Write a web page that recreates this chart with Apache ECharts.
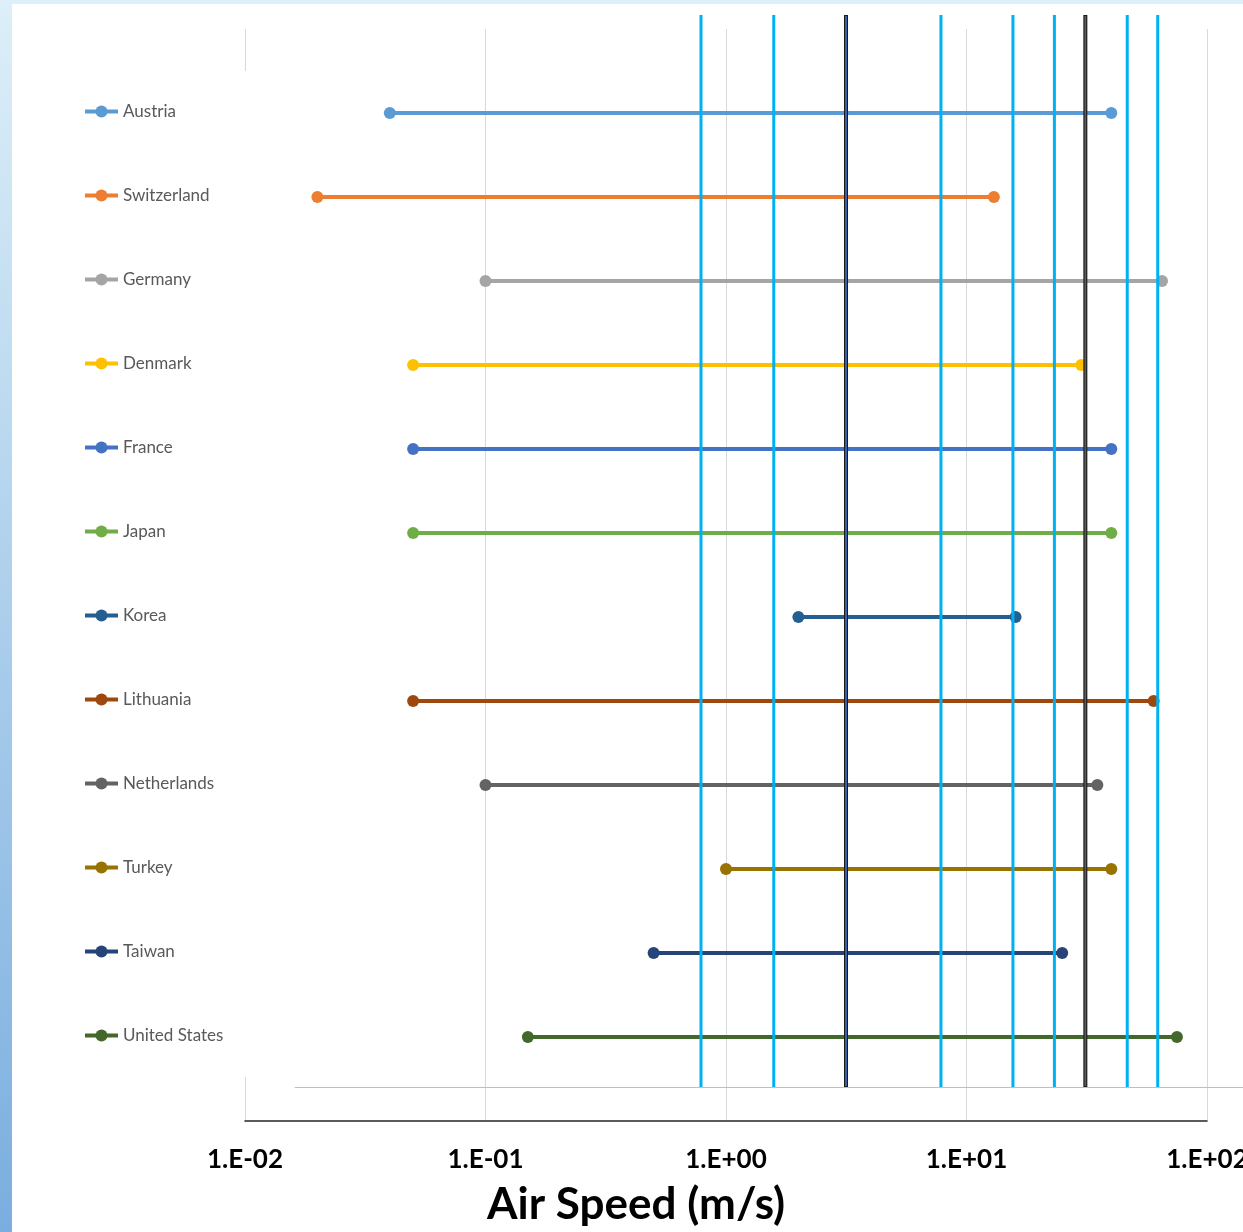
<!DOCTYPE html>
<html>
<head>
<meta charset="utf-8">
<style>
  html, body { margin: 0; padding: 0; background: #ffffff; overflow: hidden; }
  #chart { width: 1243px; height: 1232px; }
</style>
<script src="https://cdn.jsdelivr.net/npm/echarts@6/dist/echarts.min.js"></script>
</head>
<body>
<div id="chart"></div>
<script>
// Air speed ranges per country (m/s), drawn on a log scale
const countries = ['Austria', 'Switzerland', 'Germany', 'Denmark', 'France', 'Japan',
  'Korea', 'Lithuania', 'Netherlands', 'Turkey', 'Taiwan', 'United States'];
const lowSpeed  = [0.04, 0.02, 0.1, 0.05, 0.05, 0.05, 2, 0.05, 0.1, 1, 0.5, 0.15];
const highSpeed = [40, 13, 65, 30, 40, 40, 16, 60, 35, 40, 25, 75];
const seriesColors = ['#5B9BD5', '#ED7D31', '#A5A5A5', '#FFC000', '#4472C4', '#70AD47',
  '#255E91', '#9E480E', '#636363', '#997300', '#264478', '#43682B'];

// Reference speeds shown as vertical lines
const cyanLines = [0.787, 1.58, 7.83, 15.6, 23.2, 46.6, 62.4];
const darkLines = [3.155, 31.2];
const darkLineFill = ['#3F66B8', '#595959'];

// Tick label format: 1.E-02, 1.E+00, ...
function sciLabel(v) {
  const e = Math.round(Math.log10(v));
  const sign = e < 0 ? '-' : '+';
  return '1.E' + sign + String(Math.abs(e)).padStart(2, '0');
}

const font = 'Lato, "Open Sans", sans-serif';

const countrySeries = countries.map((name, i) => ({
  type: 'line',
  name: name,
  xAxisIndex: 0,
  yAxisIndex: 0,
  data: [[lowSpeed[i], i + 1], [highSpeed[i], i + 1]],
  symbol: 'circle',
  symbolSize: 12,
  lineStyle: { width: 4, color: seriesColors[i] },
  itemStyle: { color: seriesColors[i] },
  emphasis: { disabled: true },
  z: 2
}));

function vLine(color, width) {
  return function (params, api) {
    const x = api.value(0);
    const p0 = api.coord([x, 0]);
    const p1 = api.coord([x, 1]);
    return {
      type: 'line',
      shape: { x1: p0[0], y1: p0[1], x2: p1[0], y2: p1[1] },
      style: { stroke: color, lineWidth: width }
    };
  };
}

const option = {
  animation: false,
  backgroundColor: '#ffffff',
  graphic: [
    { type: 'rect', left: 0, top: 0, shape: { width: 1243, height: 4 },
      style: { fill: '#DDEFF8' }, z: 100 },
    { type: 'rect', left: 0, top: 0, shape: { width: 12, height: 1232 },
      style: { fill: new echarts.graphic.LinearGradient(0, 0, 0, 1, [
        { offset: 0, color: '#DDEFF8' }, { offset: 1, color: '#7AAEDF' }]) }, z: 100 }
  ],
  title: {
    text: 'Air Speed (m/s)',
    left: 482,
    top: 1178,
    textStyle: { fontFamily: font, fontWeight: 'bold', fontSize: 44, color: '#000000' }
  },
  legend: {
    data: countries,
    orient: 'vertical',
    left: 71,
    top: 71,
    padding: [32, 60, 33, 12],
    itemGap: 67,
    itemWidth: 33,
    itemHeight: 15,
    lineStyle: { width: 4 },
    backgroundColor: '#ffffff',
    selectedMode: false,
    textStyle: { fontFamily: font, fontSize: 17, lineHeight: 17, color: '#595959' }
  },
  grid: [
    { left: 245, right: 36, top: 29, bottom: 111, outerBoundsMode: 'none' },
    { left: 245, right: 36, top: 15, bottom: 145, outerBoundsMode: 'none' },
    { left: 295, right: 0, top: 1000, bottom: 145, outerBoundsMode: 'none' }
  ],
  xAxis: [
    {
      type: 'log', logBase: 10, min: 0.01, max: 100, gridIndex: 0,
      axisLine: { show: true, onZero: false, lineStyle: { color: '#262626', width: 1.5 } },
      axisTick: { show: false },
      splitLine: { show: true, lineStyle: { color: '#D9D9D9', width: 1 } },
      axisLabel: {
        formatter: sciLabel, margin: 26,
        fontFamily: font, fontWeight: 'bold', fontSize: 26, color: '#000000'
      }
    },
    {
      type: 'log', logBase: 10, min: 0.01, max: 100, gridIndex: 1,
      show: false
    },
    {
      type: 'value', min: 0, max: 1, gridIndex: 2, position: 'bottom',
      axisLine: { show: true, onZero: false, lineStyle: { color: '#BFBFBF', width: 1 } },
      axisTick: { show: false }, axisLabel: { show: false }, splitLine: { show: false }
    }
  ],
  yAxis: [
    { type: 'value', min: 0, max: 13, inverse: true, gridIndex: 0, show: false },
    { type: 'value', min: 0, max: 1, gridIndex: 1, show: false },
    { type: 'value', min: 0, max: 1, gridIndex: 2, show: false }
  ],
  series: countrySeries.concat([
    {
      type: 'custom', name: 'cyan', xAxisIndex: 1, yAxisIndex: 1,
      data: cyanLines.map(v => [v]),
      encode: { x: 0 },
      renderItem: vLine('#00B0F0', 3),
      silent: true, z: 5
    },
    {
      type: 'custom', name: 'darkOutline', xAxisIndex: 1, yAxisIndex: 1,
      data: darkLines.map(v => [v]),
      encode: { x: 0 },
      renderItem: vLine('#1A1A1A', 4),
      silent: true, z: 5
    },
    {
      type: 'custom', name: 'darkFill', xAxisIndex: 1, yAxisIndex: 1,
      data: darkLines.map(v => [v]),
      encode: { x: 0 },
      renderItem: function (params, api) {
        const x = api.value(0);
        const p0 = api.coord([x, 0]);
        const p1 = api.coord([x, 1]);
        return {
          type: 'line',
          shape: { x1: p0[0], y1: p0[1] - 1, x2: p1[0], y2: p1[1] + 1 },
          style: { stroke: darkLineFill[params.dataIndex], lineWidth: 1.8 }
        };
      },
      silent: true, z: 6
    }
  ])
};

const chart = echarts.init(document.getElementById('chart'), null, { renderer: 'canvas' });
chart.setOption(option);
</script>
</body>
</html>
